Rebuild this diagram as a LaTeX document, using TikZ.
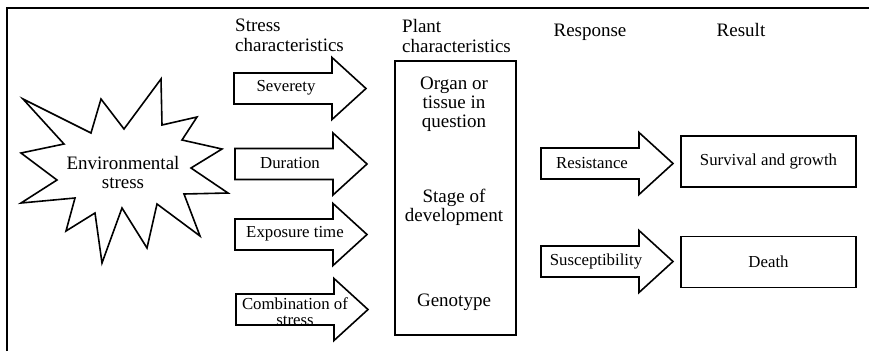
\documentclass[tikz,border=0pt]{standalone}
\usepackage{fontspec}
\setmainfont{Liberation Serif}
\usepackage{tikz}

\tikzset{
  outline/.style={draw=black,line width=1.6pt,line join=miter},
  headtext/.style={anchor=north west,align=left,inner sep=0pt,font=\fontsize{19}{20}\selectfont},
  plainttext/.style={align=center,inner sep=0pt,font=\fontsize{19}{19}\selectfont},
  arrowtext/.style={align=center,inner sep=0pt,font=\fontsize{16.8}{16.5}\selectfont},
  resultbox/.style={outline,minimum width=175pt,minimum height=51pt,inner sep=0pt,font=\fontsize{16.8}{16.5}\selectfont},
  blockarrow/.pic={
    \draw[outline] (0,-15.5) -- (98,-15.5) -- (98,-31) -- (132,0) -- (98,31) -- (98,15.5) -- (0,15.5) -- cycle;
  }
}

\begin{document}
\begin{tikzpicture}[x=1pt,y=-1pt]
    \useasboundingbox (0,0) rectangle (869,351);
    % frame
    \draw[line width=2pt] (7,351) -- (7,8) -- (869,8);

    % environmental stress star
    \draw[outline] (23,99) -- (91,133) -- (101,99) -- (124,129) -- (161,79) -- (162,125)
      -- (197,117) -- (182,140) -- (222,149) -- (191,168) -- (228,193) -- (184,194)
      -- (200,236) -- (157,204) -- (147,248) -- (122,208) -- (102,263) -- (95,213)
      -- (66,231) -- (75,198) -- (21,203) -- (57,180) -- (21,153) -- (64,144) -- cycle;
    \node[plainttext] (env) at (123,172) {Environmental\\stress};

    % column heads
    \node[headtext] (stresshead) at (235,19) {Stress\\characteristics};
    \node[headtext] (planthead) at (402,19) {Plant\\characteristics};
    \node[headtext,anchor=base] (resphead) at (590,36) {Response};
    \node[headtext,anchor=base] (resulthead) at (741,36) {Result};

    % stress characteristics
    \pic at (234,88.5) {blockarrow};
    \node[arrowtext] (severety) at (286,88) {Severety};
    \pic at (235,164) {blockarrow};
    \node[arrowtext] (duration) at (290,163) {Duration};
    \pic at (235,234.5) {blockarrow};
    \node[arrowtext] (exposure) at (295,234) {Exposure time};
    \pic at (236,309.5) {blockarrow};
    \node[arrowtext] (combination) at (295,311.5) {Combination of\\stress};

    % plant characteristics
    \node[outline,minimum width=121pt,minimum height=274pt,inner sep=0pt] (plant) at (455.5,198) {};
    \node[plainttext] (organ) at (454,104) {Organ or\\tissue in\\question};
    \node[plainttext] (stage) at (454,207) {Stage of\\development};
    \node[plainttext] (genotype) at (454,302) {Genotype};

    % response
    \pic at (541,163.5) {blockarrow};
    \node[arrowtext] (resistance) at (592,163) {Resistance};
    \pic at (541,261.5) {blockarrow};
    \node[arrowtext] (susceptibility) at (596,261) {Susceptibility};

    % result
    \node[resultbox] (survival) at (768.5,161.5) {Survival and growth};
    \node[resultbox] (death) at (768.5,262) {Death};
  \end{tikzpicture}
\end{document}
